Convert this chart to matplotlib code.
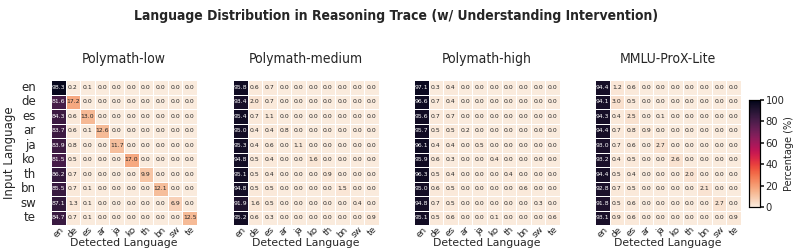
import numpy as np
import matplotlib
matplotlib.use("Agg")
import matplotlib.pyplot as plt
import seaborn as sns

# Dados
langs = ['en', 'de', 'es', 'ar', 'ja', 'ko', 'th', 'bn', 'sw', 'te']
titles = ['Polymath-low', 'Polymath-medium', 'Polymath-high', 'MMLU-ProX-Lite']

polymath_low = [
    [98.3, 0.2, 0.1, 0.0, 0.0, 0.0, 0.0, 0.0, 0.0, 0.0],
    [81.6, 17.2, 0.0, 0.0, 0.0, 0.0, 0.0, 0.0, 0.0, 0.0],
    [84.3, 0.6, 13.0, 0.0, 0.0, 0.0, 0.0, 0.0, 0.0, 0.0],
    [83.7, 0.6, 0.1, 12.6, 0.0, 0.0, 0.0, 0.0, 0.0, 0.0],
    [83.9, 0.8, 0.0, 0.0, 11.7, 0.0, 0.0, 0.0, 0.0, 0.0],
    [81.5, 0.5, 0.0, 0.0, 0.0, 17.0, 0.0, 0.0, 0.0, 0.0],
    [86.2, 0.7, 0.0, 0.0, 0.0, 0.0, 9.9, 0.0, 0.0, 0.0],
    [85.5, 0.7, 0.1, 0.0, 0.0, 0.0, 0.0, 12.1, 0.0, 0.0],
    [87.1, 1.3, 0.1, 0.0, 0.0, 0.0, 0.0, 0.0, 6.9, 0.0],
    [84.7, 0.7, 0.1, 0.0, 0.0, 0.0, 0.0, 0.0, 0.0, 12.5],
]
polymath_medium = [
    [95.8, 0.6, 0.7, 0.0, 0.0, 0.0, 0.0, 0.0, 0.0, 0.0],
    [93.4, 2.0, 0.7, 0.0, 0.0, 0.0, 0.0, 0.0, 0.0, 0.0],
    [95.4, 0.7, 1.1, 0.0, 0.0, 0.0, 0.0, 0.0, 0.0, 0.0],
    [95.0, 0.4, 0.4, 0.8, 0.0, 0.0, 0.0, 0.0, 0.0, 0.0],
    [95.3, 0.4, 0.6, 0.0, 1.1, 0.0, 0.0, 0.0, 0.0, 0.0],
    [94.8, 0.5, 0.4, 0.0, 0.0, 1.6, 0.0, 0.0, 0.0, 0.0],
    [95.1, 0.5, 0.4, 0.0, 0.0, 0.0, 0.9, 0.0, 0.0, 0.0],
    [94.8, 0.5, 0.5, 0.0, 0.0, 0.0, 0.0, 1.5, 0.0, 0.0],
    [91.9, 1.6, 0.5, 0.0, 0.0, 0.0, 0.0, 0.0, 0.4, 0.0],
    [95.2, 0.6, 0.3, 0.0, 0.0, 0.0, 0.0, 0.0, 0.0, 0.9],
]
polymath_high = [
    [97.1, 0.3, 0.4, 0.0, 0.0, 0.0, 0.0, 0.0, 0.0, 0.0],
    [96.6, 0.7, 0.4, 0.0, 0.0, 0.0, 0.0, 0.0, 0.0, 0.0],
    [95.6, 0.7, 0.7, 0.0, 0.0, 0.0, 0.0, 0.0, 0.0, 0.0],
    [95.7, 0.5, 0.5, 0.2, 0.0, 0.0, 0.0, 0.0, 0.0, 0.0],
    [96.1, 0.4, 0.4, 0.0, 0.5, 0.0, 0.0, 0.0, 0.0, 0.0],
    [95.9, 0.6, 0.3, 0.0, 0.0, 0.4, 0.0, 0.0, 0.0, 0.0],
    [96.3, 0.5, 0.4, 0.0, 0.0, 0.0, 0.4, 0.0, 0.0, 0.0],
    [95.0, 0.6, 0.5, 0.0, 0.0, 0.0, 0.0, 0.6, 0.0, 0.0],
    [94.8, 0.7, 0.5, 0.0, 0.0, 0.0, 0.0, 0.0, 0.3, 0.0],
    [95.1, 0.5, 0.6, 0.0, 0.0, 0.1, 0.0, 0.0, 0.0, 0.6],
]
mmlu_prox_lite = [
    [94.4, 1.2, 0.6, 0.0, 0.0, 0.0, 0.0, 0.0, 0.0, 0.0],
    [94.1, 3.0, 0.5, 0.0, 0.0, 0.0, 0.0, 0.0, 0.0, 0.0],
    [94.3, 0.4, 2.5, 0.0, 0.1, 0.0, 0.0, 0.0, 0.0, 0.0],
    [94.4, 0.7, 0.8, 0.9, 0.0, 0.0, 0.0, 0.0, 0.0, 0.0],
    [93.0, 0.7, 0.6, 0.0, 2.7, 0.0, 0.0, 0.0, 0.0, 0.0],
    [93.2, 0.4, 0.5, 0.0, 0.0, 2.6, 0.0, 0.0, 0.0, 0.0],
    [94.4, 0.5, 0.4, 0.0, 0.0, 0.0, 2.0, 0.0, 0.0, 0.0],
    [92.8, 0.7, 0.5, 0.0, 0.0, 0.0, 0.0, 2.1, 0.0, 0.0],
    [91.8, 0.5, 0.6, 0.0, 0.0, 0.0, 0.0, 0.0, 2.7, 0.0],
    [93.1, 0.9, 0.6, 0.0, 0.0, 0.0, 0.0, 0.0, 0.0, 0.9],
]
matrices = [polymath_low, polymath_medium, polymath_high, mmlu_prox_lite]

sns.set_theme(style="white")
plt.rcParams['font.family'] = ['DejaVu Sans']

fig = plt.figure(figsize=(7.93, 2.5), dpi=100)
W, H = 793.0, 250.0
lefts = [51, 233, 414, 595]
cax = fig.add_axes([749 / W, 43 / H, 11 / W, 107 / H])

for i, (mat, title) in enumerate(zip(matrices, titles)):
    ax = fig.add_axes([lefts[i] / W, 25 / H, 146 / W, 145 / H])
    sns.heatmap(np.array(mat), ax=ax, cmap='rocket_r', vmin=0, vmax=100,
                annot=True, fmt='.1f', annot_kws={'fontsize': 4.4},
                linewidths=0.5, linecolor='white',
                cbar=(i == 0), cbar_ax=cax if i == 0 else None,
                xticklabels=langs, yticklabels=langs if i == 0 else False)
    ax.set_title(title, fontsize=10, pad=12, fontstretch='condensed')
    ax.set_xlabel('Detected Language', fontsize=7.8, labelpad=-1.5)
    ax.tick_params(axis='x', labelsize=6.4, rotation=45, pad=0, length=0)
    if i == 0:
        ax.set_ylabel('Input Language', fontsize=8.5, labelpad=3)
        ax.tick_params(axis='y', labelsize=8.5, rotation=0, pad=11, length=0)
    else:
        ax.set_ylabel('')

cax.set_ylabel('Percentage (%)', fontsize=7, labelpad=0)
cax.tick_params(labelsize=7.2, length=3, pad=1)
for s in cax.spines.values():
    s.set_visible(True)
    s.set_color('black')
    s.set_linewidth(0.8)

fig.suptitle('Language Distribution in Reasoning Trace (w/ Understanding Intervention)',
             fontsize=10, fontweight='bold', fontstretch='condensed', y=0.965)

fig.savefig('out.png', dpi=100)
